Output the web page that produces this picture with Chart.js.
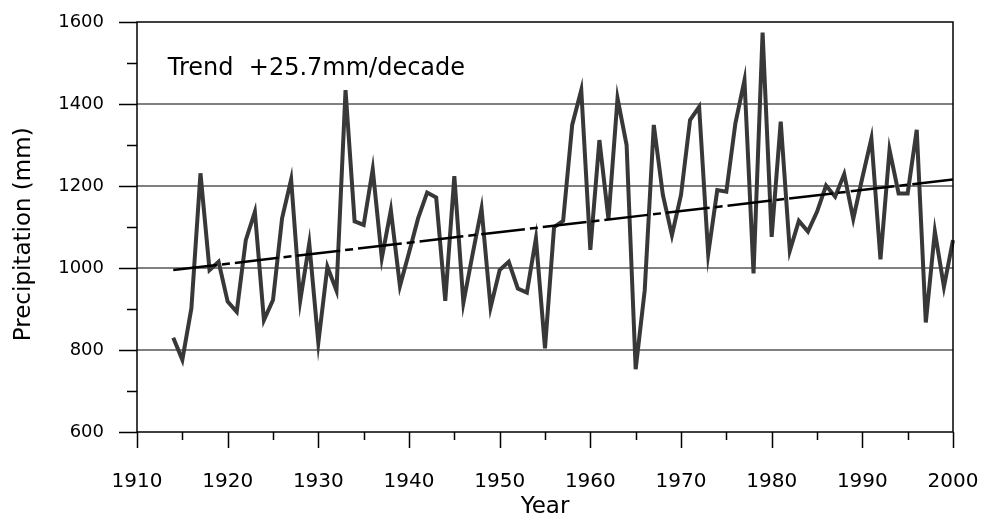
<!DOCTYPE html>
<html>
<head>
<meta charset="utf-8">
<script src="https://cdn.jsdelivr.net/npm/chart.js@4.4.1/dist/chart.umd.min.js"></script>
<style>
  html, body { margin: 0; padding: 0; background: #fff; }
  #wrap { width: 982px; height: 518px; }
</style>
</head>
<body>
<div id="wrap"><canvas id="myChart" width="982" height="518"></canvas></div>
<script>
// annual precipitation
var years = [1914, 1915, 1916, 1917, 1918, 1919, 1920, 1921, 1922, 1923,
  1924, 1925, 1926, 1927, 1928, 1929, 1930, 1931, 1932, 1933,
  1934, 1935, 1936, 1937, 1938, 1939, 1940, 1941, 1942, 1943,
  1944, 1945, 1946, 1947, 1948, 1949, 1950, 1951, 1952, 1953,
  1954, 1955, 1956, 1957, 1958, 1959, 1960, 1961, 1962, 1963,
  1964, 1965, 1966, 1967, 1968, 1969, 1970, 1971, 1972, 1973,
  1974, 1975, 1976, 1977, 1978, 1979, 1980, 1981, 1982, 1983,
  1984, 1985, 1986, 1987, 1988, 1989, 1990, 1991, 1992, 1993,
  1994, 1995, 1996, 1997, 1998, 1999, 2000];
var precipitation = [830, 776, 902, 1231, 995, 1015, 918, 893, 1068, 1137,
  873, 922, 1121, 1216, 920, 1060, 818, 1003, 945, 1434,
  1114, 1105, 1241, 1024, 1141, 956, 1037, 1121, 1184, 1172,
  920, 1224, 915, 1032, 1145, 904, 995, 1015, 950, 940,
  1072, 804, 1100, 1115, 1349, 1434, 1044, 1312, 1119, 1414,
  1300, 753, 946, 1349, 1178, 1080, 1178, 1361, 1393, 1034,
  1190, 1186, 1353, 1458, 987, 1574, 1076, 1357, 1042, 1115,
  1089, 1137, 1201, 1174, 1229, 1120, 1220, 1316, 1021, 1288,
  1182, 1182, 1337, 867, 1089, 954, 1068];

// linear trend end points
var trendYears = [1914, 2000];
var trendValues = [995, 1216];

var yTicks = [600, 800, 1000, 1200, 1400, 1600];
var trendLabel = 'Trend  +25.7mm/decade';

var FONT = 'DejaVu Sans';

var lineData = [];
for (var i = 0; i < years.length; i++) {
  lineData.push({ x: years[i], y: precipitation[i] });
}
var trendData = [];
for (var j = 0; j < trendYears.length; j++) {
  trendData.push({ x: trendYears[j], y: trendValues[j] });
}

// frame, outward tick marks and the trend note
var axisDecor = {
  id: 'axisDecor',
  afterDraw: function(chart) {
    var ctx = chart.ctx;
    var a = chart.chartArea;
    var xs = chart.scales.x;
    var ys = chart.scales.y;
    ctx.save();
    ctx.strokeStyle = '#000';
    ctx.lineWidth = 1.5;
    ctx.strokeRect(a.left, a.top, a.right - a.left, a.bottom - a.top);

    ctx.beginPath();
    for (var v = 1910; v <= 2000; v += 5) {
      var px = Math.round(xs.getPixelForValue(v)) + 0.5;
      ctx.moveTo(px, a.bottom);
      ctx.lineTo(px, a.bottom + (v % 10 === 0 ? 16 : 8));
    }
    for (var w = 600; w <= 1600; w += 100) {
      var py = Math.round(ys.getPixelForValue(w)) + 0.5;
      ctx.moveTo(a.left, py);
      ctx.lineTo(a.left - (w % 200 === 0 ? 18 : 10), py);
    }
    ctx.stroke();

    ctx.fillStyle = '#000';
    ctx.font = '24px "' + FONT + '"';
    ctx.textBaseline = 'middle';
    ctx.textAlign = 'left';
    ctx.fillText(trendLabel, xs.getPixelForValue(1913.4), ys.getPixelForValue(1485));
    ctx.restore();
  }
};

var canvas = document.getElementById('myChart');
var ctx = canvas.getContext('2d');
var myChart = new Chart(ctx, {
  type: 'line',
  data: {
    datasets: [{
      label: 'Trend',
      data: trendData,
      borderColor: '#000',
      borderWidth: 2.5,
      borderDash: [44, 5, 8, 5],
      pointRadius: 0,
      fill: false,
      order: 0
    }, {
      label: 'Precipitation',
      data: lineData,
      borderColor: '#383838',
      borderWidth: 4,
      pointRadius: 0,
      tension: 0,
      fill: false,
      clip: false,
      order: 1
    }]
  },
  options: {
    responsive: false,
    animation: false,
    layout: { padding: { top: 22, right: 29, left: 0, bottom: 0 } },
    plugins: {
      legend: { display: false },
      tooltip: { enabled: false }
    },
    scales: {
      x: {
        type: 'linear',
        min: 1910,
        max: 2000,
        afterFit: function(s) {
          s.height = 86;
          s.paddingLeft = 0;
          s.paddingRight = 0;
        },
        border: { display: false },
        grid: { drawOnChartArea: false, drawTicks: false },
        ticks: {
          stepSize: 10,
          padding: 38,
          color: '#000',
          font: { family: FONT, size: 20 },
          maxRotation: 0,
          callback: function(v) { return String(v); }
        },
        title: {
          display: true,
          text: 'Year',
          color: '#000',
          font: { family: FONT, size: 23 },
          padding: { top: -3, bottom: -3 }
        }
      },
      y: {
        min: 600,
        max: 1600,
        afterFit: function(s) {
          s.width = 137;
          s.paddingTop = 0;
          s.paddingBottom = 0;
        },
        afterBuildTicks: function(s) {
          s.ticks = yTicks.map(function(v) { return { value: v }; });
        },
        border: { display: false },
        grid: {
          drawTicks: false,
          lineWidth: 2,
          color: function(c) {
            var v = c.tick ? c.tick.value : 0;
            return (v === 600 || v === 1600) ? 'rgba(0,0,0,0)' : '#808080';
          }
        },
        ticks: {
          padding: 33,
          color: '#000',
          font: { family: FONT, size: 18 },
          callback: function(v) { return String(v); }
        },
        title: {
          display: true,
          text: 'Precipitation (mm)  ',
          color: '#000',
          font: { family: FONT, size: 23 },
          padding: { top: 10, bottom: 0 }
        }
      }
    }
  },
  plugins: [axisDecor]
});
</script>
</body>
</html>
